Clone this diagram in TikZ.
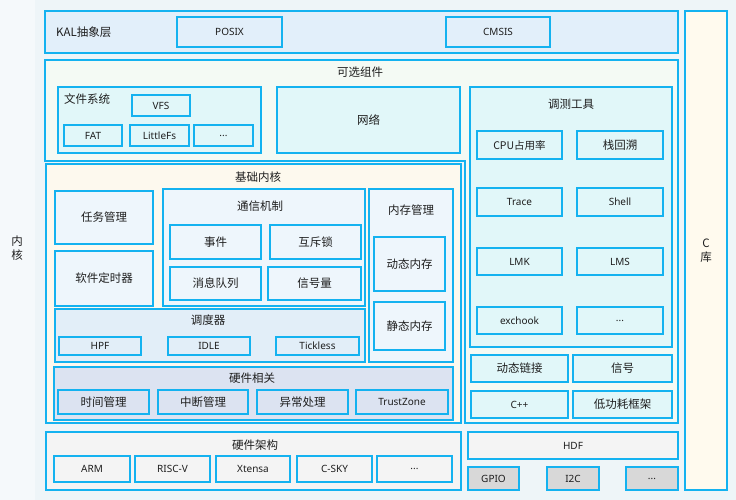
\documentclass[tikz,border=0pt]{standalone}
\usepackage{fontspec}
\setmainfont{Noto Sans CJK SC}
\newfontfamily\latinf{Noto Sans}
\definecolor{bord}{RGB}{20,178,240}
\definecolor{bgc}{HTML}{EEF5F8}
\definecolor{stripc}{HTML}{F5F9FB}
\definecolor{kalc}{HTML}{E2EFFA}
\definecolor{optc}{HTML}{F4FAF4}
\definecolor{cyanc}{HTML}{E1F7F9}
\definecolor{corec}{HTML}{FDF9EE}
\definecolor{lbc}{HTML}{EEF6FC}
\definecolor{schedc}{HTML}{E2EEF8}
\definecolor{hwc}{HTML}{DCE3F1}
\definecolor{grayc}{HTML}{F4F4F4}
\definecolor{dgrayc}{HTML}{D8D8D8}
\definecolor{clibc}{HTML}{FFFAEE}
\definecolor{txt}{HTML}{1E1E1E}
\newcommand\mybox[6][]{\node[boxst,minimum width={(#4-#2)*1pt},minimum height={(#5-#3)*1pt},anchor=north west,#1] (#2x#3) at (#2,#3) {#6};}
\begin{document}
\begin{tikzpicture}[x=1pt,y=-1pt,
  boxst/.style={draw=bord,line width=1.6pt,outer sep=0pt,inner sep=0pt,text=txt,font=\fontsize{11.5pt}{13pt}\selectfont},
  sm/.style={font=\latinf\fontsize{10pt}{12pt}\selectfont},
  smc/.style={font=\fontsize{10.5pt}{12pt}\selectfont},
  ttl/.style={text=txt,font=\fontsize{11.5pt}{13pt}\selectfont,inner sep=0pt}]
\useasboundingbox (0,0) rectangle (736,500);
\fill[bgc] (0,0) rectangle (736,500);
\fill[stripc] (0,0) rectangle (35,500);
\node[ttl,align=center] (nh) at (17,248) {内\\[1pt]核};
% KAL
\mybox[fill=kalc]{45}{11}{678}{53}{}
\node[ttl,anchor=west] (kal) at (56,32) {KAL抽象层};
\mybox[fill=kalc,sm]{177}{17}{282}{47}{POSIX}
\mybox[fill=kalc,sm]{446}{17}{550}{47}{CMSIS}
% C lib
\mybox[fill=clibc,align=center]{685}{11}{727}{490}{C\\[1pt]库}
% optional L shape
\draw[bord,line width=1.6pt,fill=optc] (45,60) -- (678,60) -- (678,423) -- (465,423) -- (465,161) -- (45,161) -- cycle;
\node[ttl] (opt) at (360,72) {可选组件};
% file system
\mybox[fill=cyanc]{58}{87}{261}{153}{}
\node[ttl,anchor=west] (fs) at (64,99) {文件系统};
\mybox[fill=cyanc,sm]{132}{95}{190}{116}{VFS}
\mybox[fill=cyanc,sm]{64}{125}{122}{146}{FAT}
\mybox[fill=cyanc,sm]{130}{125}{189}{146}{LittleFs}
\mybox[fill=cyanc,sm]{194}{125}{253}{146}{...}
\mybox[fill=cyanc]{277}{87}{460}{153}{网络}
% debug tools
\mybox[fill=cyanc]{470}{87}{672}{347}{}
\node[ttl] (dbg) at (571,104) {调测工具};
\mybox[fill=cyanc,smc]{477}{131}{562}{159}{CPU占用率}
\mybox[fill=cyanc]{577}{131}{663}{159}{栈回溯}
\mybox[fill=cyanc,sm]{477}{188}{562}{216}{Trace}
\mybox[fill=cyanc,sm]{577}{188}{663}{216}{Shell}
\mybox[fill=cyanc,sm]{477}{248}{562}{275}{LMK}
\mybox[fill=cyanc,sm]{577}{248}{663}{275}{LMS}
\mybox[fill=cyanc,sm]{477}{307}{562}{334}{exchook}
\mybox[fill=cyanc,sm]{577}{307}{663}{334}{...}
\mybox[fill=cyanc]{471}{355}{568}{382}{动态链接}
\mybox[fill=cyanc]{573}{355}{672}{382}{信号}
\mybox[fill=cyanc,sm]{471}{391}{568}{418}{C++}
\mybox[fill=cyanc]{573}{391}{672}{418}{低功耗框架}
% core
\mybox[fill=corec]{46}{164}{461}{423}{}
\node[ttl] (core) at (258,177) {基础内核};
\mybox[fill=lbc]{55}{191}{153}{244}{任务管理}
\mybox[fill=lbc]{55}{251}{153}{306}{软件定时器}
\mybox[fill=lbc]{163}{189}{365}{306}{}
\node[ttl] (comm) at (260,206) {通信机制};
\mybox[fill=lbc]{170}{225}{261}{259}{事件}
\mybox[fill=lbc]{270}{225}{361}{259}{互斥锁}
\mybox[fill=lbc]{170}{267}{261}{300}{消息队列}
\mybox[fill=lbc]{268}{267}{361}{300}{信号量}
\mybox[fill=lbc]{369}{189}{453}{362}{}
\node[ttl] (mem) at (411,210) {内存管理};
\mybox[fill=lbc]{374}{237}{445}{291}{动态内存}
\mybox[fill=lbc]{374}{302}{445}{350}{静态内存}
\mybox[fill=schedc]{55}{309}{365}{362}{}
\node[ttl] (sched) at (208,320) {调度器};
\mybox[fill=schedc,sm]{59}{337}{141}{355}{HPF}
\mybox[fill=schedc,sm]{168}{337}{250}{355}{IDLE}
\mybox[fill=schedc,sm]{276}{337}{359}{355}{Tickless}
\mybox[fill=hwc]{54}{367}{453}{420}{}
\node[ttl] (hwr) at (252,378) {硬件相关};
\mybox[fill=hwc]{58}{390}{149}{414}{时间管理}
\mybox[fill=hwc]{158}{390}{248}{414}{中断管理}
\mybox[fill=hwc]{257}{390}{348}{414}{异常处理}
\mybox[fill=hwc,sm]{356}{390}{448}{414}{TrustZone}
% hardware arch
\mybox[fill=grayc]{46}{432}{461}{490}{}
\node[ttl] (arch) at (255,445) {硬件架构};
\mybox[fill=grayc,sm]{54}{456}{130}{482}{ARM}
\mybox[fill=grayc,sm]{135}{456}{210}{482}{RISC-V}
\mybox[fill=grayc,sm]{216}{456}{290}{482}{Xtensa}
\mybox[fill=grayc,sm]{297}{456}{372}{482}{C-SKY}
\mybox[fill=grayc,sm]{377}{456}{452}{482}{...}
% HDF
\mybox[fill=grayc,sm]{468}{432}{678}{459}{HDF}
\mybox[fill=dgrayc,sm]{468}{467}{519}{490}{GPIO}
\mybox[fill=dgrayc,sm]{547}{467}{599}{490}{I2C}
\mybox[fill=dgrayc,sm]{626}{467}{678}{490}{...}
\end{tikzpicture}
\end{document}
